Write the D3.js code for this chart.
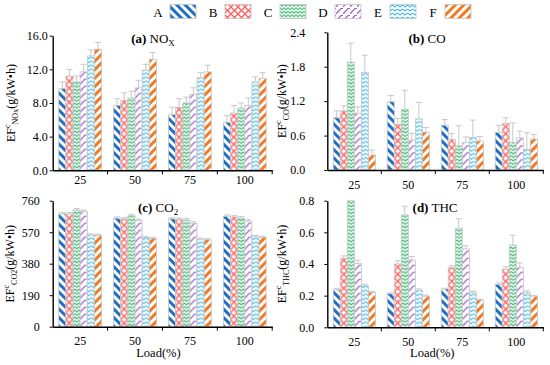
<!DOCTYPE html>
<html><head><meta charset="utf-8">
<script src="https://cdn.jsdelivr.net/npm/d3@7"></script>
<style>body{margin:0;background:#fff}svg{display:block;font-family:"Liberation Serif","Times New Roman",serif}svg text{font-family:"Liberation Serif","Times New Roman",serif}</style>
</head><body><svg id="c" width="550" height="365"></svg>
<script>
// ---------- data ----------
const categories = ["25","50","75","100"];
const series = ["A","B","C","D","E","F"];
// values per load category, in series order A..F
const noxValues = [[9.7,11.2,10.5,11.7,13.6,14.4],[7.7,8.3,8.6,9.8,11.9,13.2],[6.6,7.5,8.0,9.0,11.0,11.7],[5.7,6.8,7.4,7.7,10.5,10.9]];
const noxErr    = [[0.8,0.8,0.7,0.9,0.7,0.8],[0.8,0.9,0.8,0.9,0.7,0.8],[0.9,1.0,0.7,0.8,0.6,0.8],[0.8,0.9,0.6,0.9,0.6,0.7]];
const coValues  = [[0.91,1.03,1.88,0.99,1.70,0.26],[1.19,0.80,1.06,0.52,0.89,0.66],[0.78,0.535,0.42,0.475,0.57,0.505],[0.657,0.81,0.48,0.56,0.36,0.54]];
const coErr     = [[0.12,0.09,0.33,0.11,0.30,0.09],[0.11,0.10,0.33,0.12,0.29,0.08],[0.10,0.10,0.35,0.10,0.30,0.08],[0.12,0.10,0.34,0.12,0.29,0.08]];
const co2Values = [[680,680,704,695,553,551],[654,650,669,640,538,531],[650,648,643,624,528,524],[666,662,655,636,543,539]];
const co2Err    = [[8,8,9,9,7,7],[8,8,9,9,7,7],[8,8,9,9,7,7],[8,8,9,9,7,7]];
const thcValues = [[0.236,0.436,0.80,0.404,0.262,0.221],[0.212,0.40,0.71,0.425,0.233,0.196],[0.242,0.377,0.626,0.495,0.221,0.172],[0.27,0.368,0.52,0.377,0.22,0.197]];
const thcErr    = [[0.01,0.015,0,0.02,0.01,0.005],[0.005,0.02,0.055,0.022,0.01,0.008],[0.005,0.012,0.06,0.02,0.008,0.005],[0.01,0.015,0.062,0.03,0.01,0.005]];
const noxTicks = [0,4,8,12,16];
const coTicks  = [0,0.6,1.2,1.8,2.4];
const co2Ticks = [0,190,380,570,760];
const thcTicks = [0,0.2,0.4,0.6,0.8];

// ---------- styles ----------
const colors = ["#1f6fc4","#ff5b5b","#3fb872","#9a5ccf","#35b5ea","#f27a22"];
const svg = d3.select("#c");
const defs = svg.append("defs");

function makePattern(i){
  const c = colors[i];
  const id = "pat"+i;
  let p;
  if(i===0 || i===5){
    p = defs.append("pattern").attr("id",id).attr("patternUnits","userSpaceOnUse")
      .attr("width",6).attr("height",6).attr("patternTransform", i===0?"rotate(-45)":"rotate(45)");
    p.append("rect").attr("width",6).attr("height",6).attr("fill","#fff");
    p.append("rect").attr("width",3).attr("height",6).attr("fill",c);
  } else if(i===1){
    p = defs.append("pattern").attr("id",id).attr("patternUnits","userSpaceOnUse").attr("width",7).attr("height",7);
    p.append("rect").attr("width",7).attr("height",7).attr("fill","#fff");
    p.append("path").attr("d","M0,0L7,7M7,0L0,7").attr("stroke",c).attr("stroke-width",1.3).attr("fill","none");
  } else if(i===2){
    p = defs.append("pattern").attr("id",id).attr("patternUnits","userSpaceOnUse").attr("width",4).attr("height",3.5);
    p.append("rect").attr("width",4).attr("height",3.5).attr("fill","#fff");
    p.append("path").attr("d","M0,0.7L2,2.7L4,0.7").attr("stroke",c).attr("stroke-width",1.1).attr("fill","none");
  } else if(i===3){
    p = defs.append("pattern").attr("id",id).attr("patternUnits","userSpaceOnUse").attr("width",7).attr("height",7);
    p.append("rect").attr("width",7).attr("height",7).attr("fill","#fff");
    p.append("path").attr("d","M0,7L5,1.5L7,1.5").attr("stroke",c).attr("stroke-width",1.2).attr("fill","none");
  } else {
    p = defs.append("pattern").attr("id",id).attr("patternUnits","userSpaceOnUse").attr("width",5).attr("height",4);
    p.append("rect").attr("width",5).attr("height",4).attr("fill","#fff");
    p.append("path").attr("d","M0,3.2Q2.5,-0.6 5,3.2").attr("stroke",c).attr("stroke-width",1.1).attr("fill","none");
  }
}
series.forEach((s,i)=>makePattern(i));

// ---------- panels ----------
const panels = [
  {vals:noxValues, err:noxErr, ticks:noxTicks, fmt:d3.format(".1f"), x:52.7, y:35.7, w:219.5, h:134.6, tp:2, xp:5.5,
   title:["(a)"," NO","X"], tx:153, ty:43, lab:["NOx"], lx:13},
  {vals:coValues, err:coErr, ticks:coTicks, fmt:d3.format(".1f"), x:327.3, y:32.3, w:216, h:137.7, tp:19, xp:10,
   title:["(b)"," CO",""], tx:427, ty:43, lab:["CO"], lx:284},
  {vals:co2Values, err:co2Err, ticks:co2Ticks, fmt:d3.format("d"), x:52.7, y:200.7, w:219.5, h:126, tp:10, xp:10,
   title:["(c)"," CO","2"], tx:158, ty:212, lab:["CO2"], lx:12, load:true},
  {vals:thcValues, err:thcErr, ticks:thcTicks, fmt:d3.format(".1f"), x:327.3, y:200.7, w:216, h:126.6, tp:10, xp:10,
   title:["(d)"," THC",""], tx:435, ty:212, lab:["THC"], lx:284, load:true}
];

panels.forEach(P=>{
  const g = svg.append("g").attr("transform",`translate(${P.x},${P.y})`);
  const x0 = d3.scaleBand().domain(categories).range([0,P.w]).paddingInner(0.22).paddingOuter(0.11);
  const x1 = d3.scaleBand().domain(series).range([0,x0.bandwidth()]);
  const y = d3.scaleLinear().domain([P.ticks[0],P.ticks[P.ticks.length-1]]).range([P.h,0]);

  // bars
  categories.forEach((cat,ci)=>{
    const gg = g.append("g").attr("transform",`translate(${x0(cat)},0)`);
    series.forEach((s,si)=>{
      const v = P.vals[ci][si], e = P.err[ci][si];
      const bx = x1(s), bw = x1.bandwidth();
      gg.append("rect").attr("x",bx).attr("y",y(v)).attr("width",bw).attr("height",P.h-y(v))
        .attr("fill",`url(#pat${si})`).attr("stroke","#c4c4c4").attr("stroke-width",0.8);
      if(e>0){
        const cx = bx+bw/2;
        gg.append("line").attr("x1",cx).attr("x2",cx).attr("y1",y(v)).attr("y2",y(v+e))
          .attr("stroke","#c8c8c8").attr("stroke-width",1);
        gg.append("line").attr("x1",cx-3).attr("x2",cx+3).attr("y1",y(v+e)).attr("y2",y(v+e))
          .attr("stroke","#c8c8c8").attr("stroke-width",1);
      }
    });
  });

  // y axis
  const ya = g.append("g").call(d3.axisLeft(y).tickValues(P.ticks).tickFormat(P.fmt).tickSize(3).tickPadding(P.tp).tickSizeOuter(0));
  ya.attr("font-family",null).attr("font-size",12);
  ya.selectAll("text").attr("fill","#000");
  ya.select(".domain").attr("stroke","#000").attr("stroke-width",1.4);
  ya.selectAll(".tick line").attr("stroke","#000");

  // x axis
  const xa = g.append("g").attr("transform",`translate(0,${P.h})`)
    .call(d3.axisBottom(x0).tickSize(0).tickPadding(P.xp).tickSizeOuter(0));
  xa.attr("font-family",null).attr("font-size",12);
  xa.selectAll("text").attr("fill","#000");
  xa.select(".domain").attr("stroke","#000").attr("stroke-width",1.4);
  const bounds = d3.range(1,categories.length+1).map(k=>k*x0.step());
  xa.selectAll(".bt").data(bounds).enter().append("line").attr("class","bt")
    .attr("x1",d=>d).attr("x2",d=>d).attr("y1",0).attr("y2",4).attr("stroke","#000").attr("stroke-width",1);

  // title
  const t = svg.append("text").attr("x",P.tx).attr("y",P.ty).attr("text-anchor","middle").attr("font-size",13);
  t.append("tspan").attr("font-weight","bold").text(P.title[0]);
  t.append("tspan").text(P.title[1]);
  if(P.title[2]) t.append("tspan").attr("font-size",9).attr("dy",3).text(P.title[2]);

  // y label
  const cy = P.y + P.h/2;
  const l = svg.append("text").attr("transform",`translate(${P.lx+1.5},${cy}) rotate(-90)`).attr("text-anchor","middle").attr("font-size",12);
  l.append("tspan").text("EF");
  l.append("tspan").attr("font-size",8).attr("dy",-4.5).text("c");
  l.append("tspan").attr("font-size",8).attr("dy",7.5).text(P.lab[0]);
  l.append("tspan").attr("dy",-3).text("(g/kW•h)");

  if(P.load){
    svg.append("text").attr("x",P.x+P.w/2-(P.x>300?3:4)).attr("y",357).attr("text-anchor","middle").attr("font-size",12.5).text("Load(%)");
  }
});

// ---------- legend ----------
const lx = d3.scalePoint().domain(series).range([158,433]);
const lg = svg.append("g");
series.forEach((s,i)=>{
  lg.append("text").attr("x",lx(s)).attr("y",16.5).attr("text-anchor","middle").attr("font-size",13).text(s);
  lg.append("rect").attr("x",lx(s)+12).attr("y",4.5).attr("width",26).attr("height",14)
    .attr("fill",`url(#pat${i})`).attr("stroke","#c4c4c4").attr("stroke-width",0.8);
});
</script></body></html>
